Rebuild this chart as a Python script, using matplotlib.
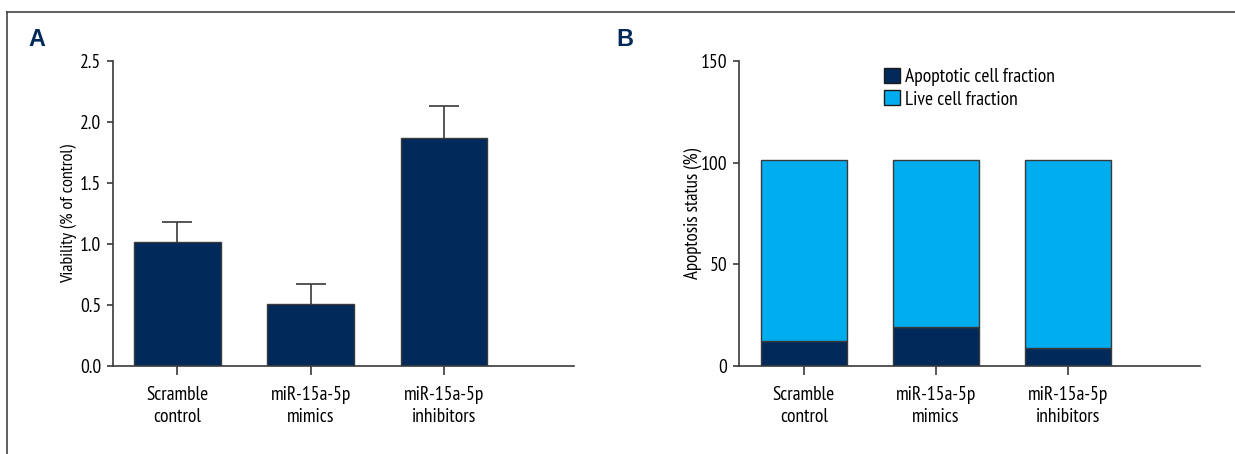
import matplotlib
matplotlib.use("Agg")
import matplotlib.pyplot as plt
from matplotlib.lines import Line2D
import numpy as np

# data
groups = ["Scramble\ncontrol", "miR-15a-5p\nmimics", "miR-15a-5p\ninhibitors"]
viability = [1.02, 0.51, 1.87]
viability_err = [0.16, 0.16, 0.26]
apoptotic = [12.5, 19.4, 8.7]
live = [88.9, 82.0, 92.7]

navy = "#012a5a"
cyan = "#00aeef"
axis_col = "#3a3a3a"

plt.rcParams["font.family"] = ["PT Sans Narrow", "Asap Condensed", "DejaVu Sans"]
fs = 14

W, H = 1235, 454
fig = plt.figure(figsize=(W / 100, H / 100), dpi=100)

# frame lines round the figure (top and left)
fig.add_artist(Line2D([7 / W, 1], [1 - 12 / H, 1 - 12 / H], color="#444444", lw=1.2))
fig.add_artist(Line2D([7 / W, 7 / W], [0, 1 - 12 / H], color="#444444", lw=1.2))

x = np.arange(len(groups))


def style(ax):
    for s in ["top", "right"]:
        ax.spines[s].set_visible(False)
    for s in ["left", "bottom"]:
        ax.spines[s].set_color(axis_col)
        ax.spines[s].set_linewidth(1.2)
    ax.tick_params(axis="y", direction="out", length=4.5, width=1.2, color=axis_col, pad=4, labelsize=fs)
    ax.tick_params(axis="x", direction="out", length=6.5, width=1.2, color=axis_col, pad=8, labelsize=fs)
    ax.set_xticks(x)
    ax.set_xticklabels(groups, linespacing=1.3)


# panel A
axA = fig.add_axes([113 / W, 1 - 366 / H, 461 / W, 305 / H])
axA.bar(x, viability, width=0.65, color=navy, edgecolor=axis_col, linewidth=1.0, zorder=2)
eb = axA.errorbar(x, viability, yerr=[np.zeros(3), viability_err], fmt="none",
                  ecolor=axis_col, elinewidth=1.2, capsize=10.6, capthick=1.2, zorder=1)
eb[1][0].set_visible(False)
axA.set_xlim(-0.483, 2.975)
axA.set_ylim(0, 2.5)
axA.set_yticks([0, 0.5, 1.0, 1.5, 2.0, 2.5])
axA.set_yticklabels(["0.0", "0.5", "1.0", "1.5", "2.0", "2.5"])
axA.set_ylabel("Viability (% of control)", fontsize=13)
axA.yaxis.set_label_coords(-0.079, 0.5)
style(axA)

# panel B
axB = fig.add_axes([739 / W, 1 - 366 / H, 461 / W, 305 / H])
axB.bar(x, apoptotic, width=0.65, color=navy, edgecolor=axis_col, linewidth=1.0,
        label="Apoptotic cell fraction", zorder=2)
axB.bar(x, live, bottom=apoptotic, width=0.65, color=cyan, edgecolor=axis_col, linewidth=1.0,
        label="Live cell fraction", zorder=2)
axB.set_xlim(-0.49, 2.997)
axB.set_ylim(0, 150)
axB.set_yticks([0, 50, 100, 150])
axB.set_ylabel("Apoptosis status (%)", fontsize=13.5)
axB.yaxis.set_label_coords(-0.081, 0.5)
style(axB)
leg = axB.legend(loc="upper left", bbox_to_anchor=(884 / W, 1 - 68 / H), bbox_transform=fig.transFigure,
                 frameon=False, fontsize=fs, handlelength=0.82, handleheight=0.82,
                 handletextpad=0.25, labelspacing=0.2, borderpad=0, borderaxespad=0)
for p in leg.get_patches():
    p.set_edgecolor("#1a1a1a")
    p.set_linewidth(1.0)

fig.text(28 / W, 1 - 40 / H, "A", fontsize=16.8, fontweight="bold", color=navy,
         va="center", ha="left", family=["Liberation Sans", "DejaVu Sans"])
fig.text(616 / W, 1 - 40 / H, "B", fontsize=16.8, fontweight="bold", color=navy,
         va="center", ha="left", family=["Liberation Sans", "DejaVu Sans"])

fig.savefig("out.png", dpi=100)
